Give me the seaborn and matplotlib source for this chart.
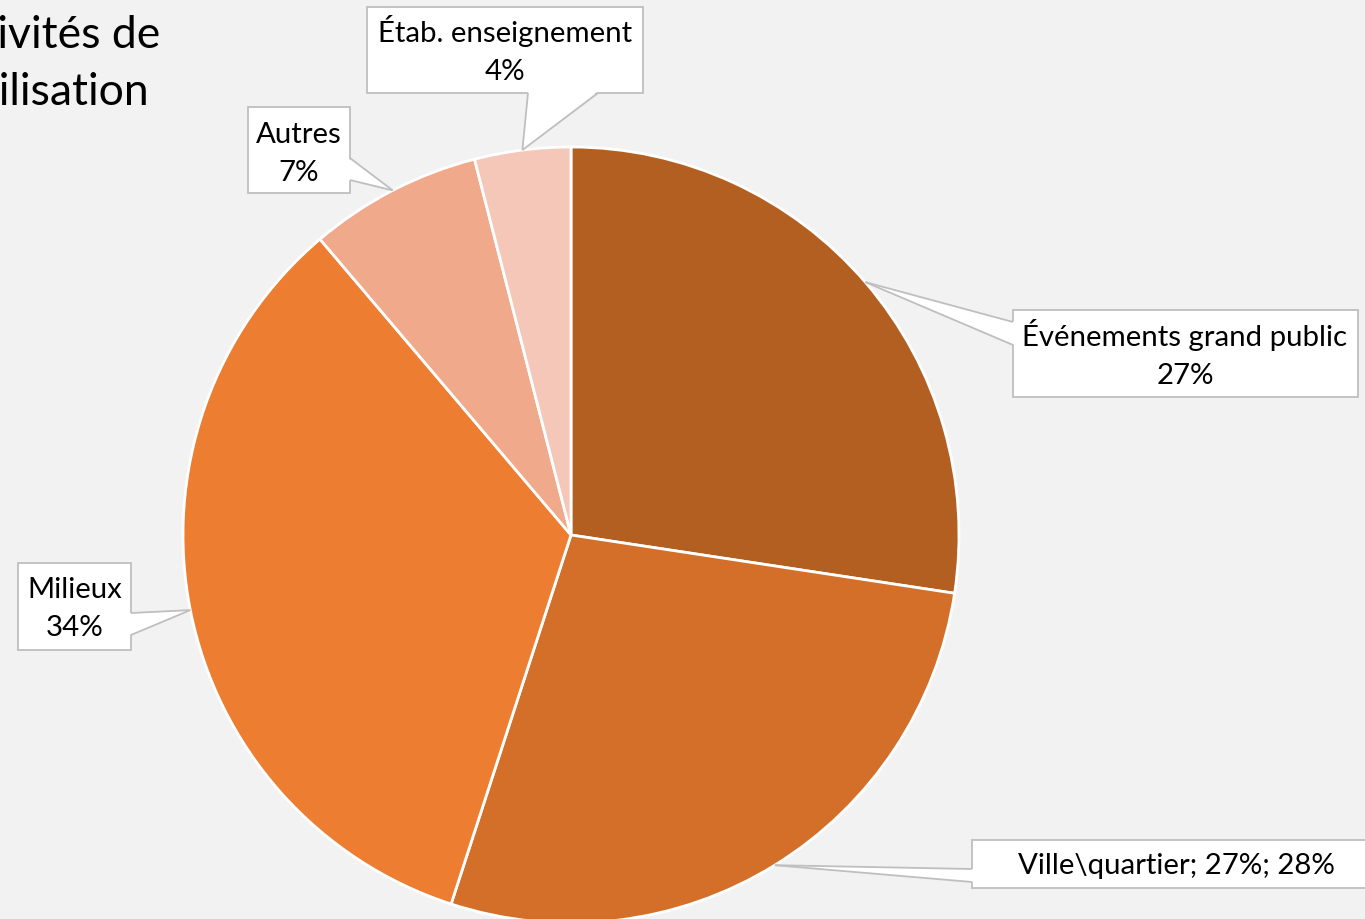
import matplotlib
matplotlib.use("Agg")
import matplotlib.pyplot as plt
import seaborn as sns
import numpy as np
from matplotlib.patches import Rectangle, Polygon

# Share of mobilisation activities by setting (percent)
categories = ["Événements grand public", "Ville\\quartier", "Milieux", "Autres", "Étab. enseignement"]
values = [27.4, 27.6, 33.8, 7.2, 4.0]
colors = ["#B45F22", "#D46F2A", "#ED7D31", "#F0A98B", "#F5C7B9"]
label_override = {"Ville\\quartier": "Ville\\quartier; 27%; 28%"}
title_lines = ["Activités de", "mobilisation"]

labels = [label_override.get(c, f"{c}\n{v:.0f}%") for c, v in zip(categories, values)]

sns.set_theme(style="white")
plt.rcParams["font.family"] = ["Lato", "DejaVu Sans"]

W, H, DPI = 1365, 919, 100
BG = "#F2F2F2"
fig = plt.figure(figsize=(W / DPI, H / DPI), dpi=DPI, facecolor=BG)

# Pie axes: centre (571, 535) px, radius 388 px
cx, cy, r = 571, 535, 388
ax = fig.add_axes([(cx - r) / W, (H - cy - r) / H, 2 * r / W, 2 * r / H])
ax.set_facecolor("none")
wedges, _ = ax.pie(values, colors=colors, startangle=90, counterclock=False,
                   radius=1.0, wedgeprops=dict(edgecolor="white", linewidth=2.0))
ax.set_xlim(-1, 1)
ax.set_ylim(-1, 1)
ax.set_aspect("equal")
ax.axis("off")

# Overlay in pixel coordinates (y downwards) for callouts
ov = fig.add_axes([0, 0, 1, 1], zorder=5)
ov.set_xlim(0, W)
ov.set_ylim(H, 0)
ov.axis("off")
ov.set_facecolor("none")

fig.canvas.draw()


def rim_point(w):
    mid = np.deg2rad((w.theta1 + w.theta2) / 2)
    x, y = w.center[0] + w.r * np.cos(mid), w.center[1] + w.r * np.sin(mid)
    dx, dy = ax.transData.transform((x, y))
    return dx, H - dy


# Callout layout: box (x0, y0, x1, y1), base points on box edge, text centre
layout = {
    "Événements grand public": dict(box=(1013, 310, 1358, 397), base=[(1013, 322), (1013, 345)], txt=(1185, 354)),
    "Ville\\quartier": dict(box=(972, 840, 1375, 888), base=[(972, 869), (972, 882)], txt=(1176, 866)),
    "Milieux": dict(box=(18, 563, 131, 650), base=[(131, 613), (131, 635)], txt=(74.5, 609)),
    "Autres": dict(box=(248, 107, 350, 193), base=[(350, 158), (350, 180)], txt=(299, 154)),
    "Étab. enseignement": dict(box=(367, 7, 643, 93), base=[(528, 93), (598, 93)], txt=(505, 50)),
}

edge_col = "#BFBFBF"
label_size = 21.2
for w, cat, lab in zip(wedges, categories, labels):
    L = layout[cat]
    x0, y0, x1, y1 = L["box"]
    tip = rim_point(w)
    ov.add_patch(Rectangle((x0, y0), x1 - x0, y1 - y0, facecolor="white",
                           edgecolor=edge_col, linewidth=1.3, zorder=3))
    b1, b2 = L["base"]
    # push base slightly inside the box so the border gap is hidden
    inx = 2 if b1[0] == x0 else (-2 if b1[0] == x1 else 0)
    iny = -2 if b1[1] == y1 else (2 if b1[1] == y0 else 0)
    ov.add_patch(Polygon([(b1[0] + inx, b1[1] + iny), tip, (b2[0] + inx, b2[1] + iny)],
                         closed=True, facecolor="white", edgecolor="none", zorder=4))
    ov.plot([b1[0], tip[0]], [b1[1], tip[1]], color=edge_col, lw=1.3, zorder=5,
            solid_capstyle="butt")
    ov.plot([b2[0], tip[0]], [b2[1], tip[1]], color=edge_col, lw=1.3, zorder=5,
            solid_capstyle="butt")
    ov.text(L["txt"][0], L["txt"][1], lab, ha="center", va="center", fontsize=label_size,
            color="#000000", linespacing=1.6, zorder=6, multialignment="center")

# Chart title, partly running off the left edge
ov.text(160, 48, title_lines[0], ha="right", va="baseline", fontsize=32, color="#000000")
ov.text(150, 105, title_lines[1], ha="right", va="baseline", fontsize=32, color="#000000")

fig.savefig("out.png", dpi=DPI, facecolor=BG)
